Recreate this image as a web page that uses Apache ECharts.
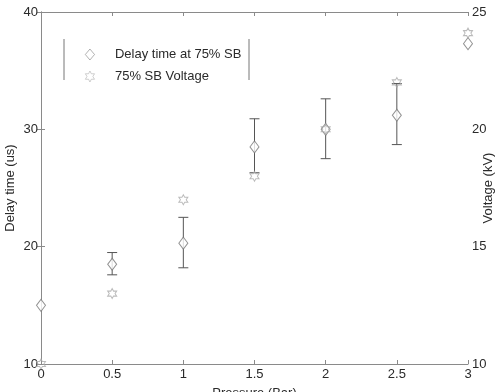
<!DOCTYPE html>
<html>
<head>
<meta charset="utf-8">
<script src="https://cdn.jsdelivr.net/npm/echarts@6/dist/echarts.min.js"></script>
<style>
  html, body { margin: 0; padding: 0; background: #fff; }
  #chart { width: 500px; height: 392px; }
</style>
</head>
<body>
<div id="chart"></div>
<script>
// data
var pressure = [0, 0.5, 1, 1.5, 2, 2.5, 3];
var delayTime = [15.0, 18.5, 20.3, 28.5, 30.0, 31.2, 37.3];
var delayLow = [null, 17.6, 18.2, 26.3, 27.5, 28.7, null];
var delayHigh = [null, 19.5, 22.5, 30.9, 32.6, 33.9, null];
var voltage = [10.0, 13.0, 17.0, 18.0, 20.0, 22.0, 24.1];

var diamond = 'path://M5,0 L10,6 L5,12 L0,6 Z';
var star = 'path://M5,0 L6.5,3 L10,3 L8.2,6 L10,9 L6.5,9 L5,12 L3.5,9 L0,9 L1.8,6 L0,3 L3.5,3 Z';

var delayPts = pressure.map(function (p, i) { return [p, delayTime[i]]; });
var voltPts = pressure.map(function (p, i) { return [p, voltage[i]]; });
var errPts = [];
pressure.forEach(function (p, i) {
    if (delayLow[i] != null) errPts.push([p, delayLow[i], delayHigh[i]]);
});

var dom = document.getElementById('chart');
var myChart = echarts.init(dom);

var axisGrey = '#8a8a8a';
var txt = '#2a2a2a';
var font = 'Liberation Sans, Arial, sans-serif';

var option = {
    animation: false,
    backgroundColor: '#fff',
    textStyle: { fontFamily: font },
    grid: { left: 41, right: 32, top: 12, bottom: 28, containLabel: false, outerBoundsMode: 'none' },
    legend: {
        orient: 'vertical',
        left: 80,
        top: 43,
        itemWidth: 22,
        itemHeight: 11,
        itemGap: 9,
        data: ['Delay time at 75% SB', '75% SB Voltage'],
        itemStyle: { borderWidth: 0.7 },
        textStyle: { color: txt, fontSize: 13, fontFamily: font, padding: [0, 0, 0, 9] }
    },
    xAxis: [
        {
            type: 'value', min: 0, max: 3, interval: 0.5,
            name: 'Pressure (Bar)', nameLocation: 'middle', nameGap: 23, nameMoveOverlap: false,
            nameTextStyle: { color: txt, fontSize: 13 },
            axisLine: { lineStyle: { color: axisGrey } },
            axisTick: { inside: true, length: 4, lineStyle: { color: axisGrey } },
            axisLabel: { color: txt, fontSize: 13, margin: 4 },
            splitLine: { show: false }
        },
        {
            type: 'value', min: 0, max: 3, interval: 0.5, position: 'top',
            axisLine: { lineStyle: { color: axisGrey } },
            axisTick: { inside: true, length: 4, lineStyle: { color: axisGrey } },
            axisLabel: { show: false },
            splitLine: { show: false }
        }
    ],
    yAxis: [
        {
            type: 'value', min: 10, max: 40, interval: 10,
            name: 'Delay time (us)', nameLocation: 'middle', nameGap: 24, nameMoveOverlap: false,
            nameTextStyle: { color: txt, fontSize: 13 },
            axisLine: { show: true, lineStyle: { color: axisGrey } },
            axisTick: { show: true, inside: true, length: 4, lineStyle: { color: axisGrey } },
            axisLabel: { color: txt, fontSize: 13, margin: 3 },
            splitLine: { show: false }
        },
        {
            type: 'value', min: 10, max: 25, interval: 5, position: 'right',
            name: 'Voltage (kV)', nameLocation: 'middle', nameGap: 14, nameMoveOverlap: false,
            nameRotate: 90,
            nameTextStyle: { color: txt, fontSize: 13 },
            axisLine: { show: true, lineStyle: { color: axisGrey } },
            axisTick: { show: true, inside: true, length: 4, lineStyle: { color: axisGrey } },
            axisLabel: { color: txt, fontSize: 13, margin: 4 },
            splitLine: { show: false }
        }
    ],
    graphic: [
        { type: 'line', shape: { x1: 64, y1: 39, x2: 64, y2: 80 }, style: { stroke: '#777', lineWidth: 1 } },
        { type: 'line', shape: { x1: 249, y1: 39, x2: 249, y2: 80 }, style: { stroke: '#777', lineWidth: 1 } }
    ],
    series: [
        {
            name: 'error',
            type: 'custom',
            xAxisIndex: 0,
            yAxisIndex: 0,
            encode: { x: 0, y: [1, 2] },
            data: errPts,
            z: 1,
            renderItem: function (params, api) {
                var x = api.value(0);
                var lo = api.coord([x, api.value(1)]);
                var hi = api.coord([x, api.value(2)]);
                var w = 5;
                var st = { stroke: '#555', lineWidth: 1 };
                return {
                    type: 'group',
                    children: [
                        { type: 'line', shape: { x1: lo[0], y1: lo[1], x2: hi[0], y2: hi[1] }, style: st },
                        { type: 'line', shape: { x1: lo[0] - w, y1: lo[1], x2: lo[0] + w, y2: lo[1] }, style: st },
                        { type: 'line', shape: { x1: hi[0] - w, y1: hi[1], x2: hi[0] + w, y2: hi[1] }, style: st }
                    ]
                };
            }
        },
        {
            name: 'Delay time at 75% SB',
            type: 'scatter',
            xAxisIndex: 0,
            yAxisIndex: 0,
            symbol: diamond,
            symbolSize: [9, 12],
            z: 3,
            itemStyle: { color: '#fff', borderColor: '#777', borderWidth: 1 },
            data: delayPts
        },
        {
            name: '75% SB Voltage',
            type: 'scatter',
            xAxisIndex: 0,
            yAxisIndex: 1,
            symbol: star,
            symbolSize: [9, 10],
            z: 4,
            itemStyle: { color: 'rgba(255,255,255,0)', borderColor: '#aaa', borderWidth: 1 },
            data: voltPts
        }
    ]
};

if (option && typeof option === 'object') {
    myChart.setOption(option, true);
}

window.addEventListener('resize', function () {
    myChart.resize();
});
</script>
</body>
</html>
